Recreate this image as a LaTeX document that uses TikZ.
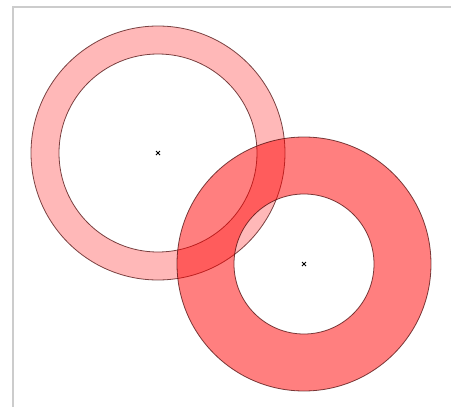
\documentclass[tikz,border=0pt]{standalone}
\begin{document}
\begin{tikzpicture}[x=1pt,y=-1pt,
  frame/.style={draw=black!20, line width=1.5pt},
  ringedge/.style={draw=black!75!red, draw opacity=0.7, line width=0.8pt},
  centremark/.style={draw=black, line width=0.9pt}]
\useasboundingbox (0,0) rectangle (451,407);
\coordinate (c1) at (158,153);
\coordinate (c2) at (304,264);
\coordinate (f1) at (451,7);
\coordinate (f2) at (13,7);
\coordinate (f3) at (13,407);
\draw[frame] (f1) -- (f2) -- (f3);
% ring 1
\fill[red, fill opacity=0.28, even odd rule] (c1) circle[radius=127pt] (c1) circle[radius=99pt];
\draw[ringedge] (c1) circle[radius=127pt];
\draw[ringedge] (c1) circle[radius=99pt];
% ring 2
\fill[red, fill opacity=0.5, even odd rule] (c2) circle[radius=127pt] (c2) circle[radius=70pt];
\draw[ringedge] (c2) circle[radius=127pt];
\draw[ringedge] (c2) circle[radius=70pt];
% centre marks
\foreach \c in {c1,c2} {
  \draw[centremark] ([shift={(-2,-2)}]\c) -- ([shift={(2,2)}]\c);
  \draw[centremark] ([shift={(-2,2)}]\c) -- ([shift={(2,-2)}]\c);
}
\end{tikzpicture}
\end{document}
